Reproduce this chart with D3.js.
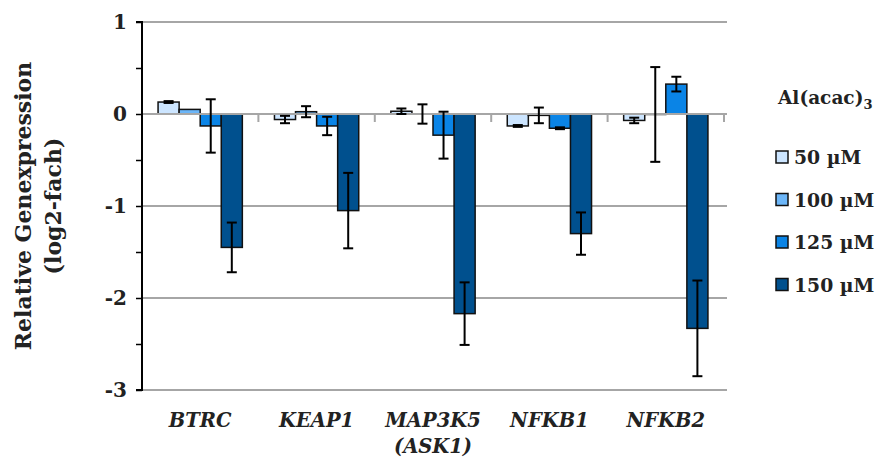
<!DOCTYPE html>
<html><head><meta charset="utf-8">
<script src="https://cdn.jsdelivr.net/npm/d3@7"></script>
<style>body{margin:0;background:#fff}svg{display:block}text{font-family:"DejaVu Serif",serif;font-weight:bold;fill:#222}</style>
</head><body><svg id="c" width="879" height="462"></svg>
<script>
const categories = [["BTRC"],["KEAP1"],["MAP3K5","(ASK1)"],["NFKB1"],["NFKB2"]];
const seriesNames = ["50 µM","100 µM","125 µM","150 µM"];
const seriesColors = ["#cce5ff","#6cb6f8","#0a84e6","#00508e"];
const s50  = [0.13, -0.06, 0.03, -0.13, -0.07];
const s100 = [0.05, 0.025, 0.00, -0.015, -0.005];
const s125 = [-0.13, -0.13, -0.23, -0.155, 0.325];
const s150 = [-1.45, -1.05, -2.17, -1.30, -2.33];
const e50  = [0.01, 0.04, 0.03, 0.01, 0.03];
const e100 = [0.00, 0.06, 0.105, 0.085, 0.515];
const e125 = [0.29, 0.10, 0.255, 0.01, 0.08];
const e150 = [0.27, 0.41, 0.34, 0.23, 0.52];
const yTicks = [1, 0, -1, -2, -3];
const values = [s50, s100, s125, s150];
const errors = [e50, e100, e125, e150];

const svg = d3.select("#c");
const pL = 142, pR = 724, pT = 22, pB = 390;
const y = d3.scaleLinear().domain([-3, 1]).range([pB, pT]);
const x0 = d3.scaleBand().domain(d3.range(categories.length)).range([pL, pR]);
const bw = x0.bandwidth();
const x1 = d3.scaleBand().domain(d3.range(4)).range([bw * 0.138, bw * 0.862]);

// gridlines
svg.append("g").selectAll("line").data(yTicks.filter(d => d !== 0)).join("line")
  .attr("x1", pL).attr("x2", pR + 3).attr("y1", d => y(d)).attr("y2", d => y(d))
  .attr("stroke", "#a6a6a6").attr("stroke-width", 2);

// bars
const data = [];
categories.forEach((c, i) => values.forEach((s, j) => data.push({i, j, v: s[i], e: errors[j][i]})));
svg.append("g").selectAll("rect").data(data).join("rect")
  .attr("x", d => x0(d.i) + x1(d.j)).attr("width", x1.bandwidth())
  .attr("y", d => y(Math.max(0, d.v))).attr("height", d => Math.abs(y(d.v) - y(0)))
  .attr("fill", d => seriesColors[d.j]).attr("stroke", "#111").attr("stroke-width", 1.5);

// zero line with category ticks
svg.append("line").attr("x1", pL).attr("x2", pR + 3).attr("y1", y(0)).attr("y2", y(0))
  .attr("stroke", "#a6a6a6").attr("stroke-width", 2);
svg.append("g").selectAll("line").data(d3.range(1, categories.length + 1)).join("line")
  .attr("x1", d => pL + d * bw).attr("x2", d => pL + d * bw)
  .attr("y1", y(0)).attr("y2", y(0) + 8).attr("stroke", "#a6a6a6").attr("stroke-width", 2);

// error bars
const eb = svg.append("g").attr("stroke", "#000").attr("stroke-width", 2);
data.filter(d => d.e > 0).forEach(d => {
  const cx = x0(d.i) + x1(d.j) + x1.bandwidth() / 2;
  eb.append("line").attr("x1", cx).attr("x2", cx).attr("y1", y(d.v + d.e)).attr("y2", y(d.v - d.e));
  [d.v + d.e, d.v - d.e].forEach(v => eb.append("line").attr("x1", cx - 5).attr("x2", cx + 5).attr("y1", y(v)).attr("y2", y(v)));
});

// y axis
const yAxis = d3.axisLeft(y).tickValues(d3.range(-3, 1.01, 0.5)).tickSize(6)
  .tickFormat(d => Number.isInteger(d) ? String(d) : "");
const ga = svg.append("g").attr("transform", `translate(${pL},0)`).call(yAxis);
ga.select(".domain").attr("stroke", "#000").attr("stroke-width", 2).attr("d", `M-6,${pT}H0V${pB}H-6`);
ga.selectAll(".tick line").attr("stroke", "#000").attr("stroke-width", 1.5);
ga.selectAll(".tick text").attr("x", -15).style("font-size", "20px").style("font-family", "DejaVu Serif").style("font-weight", "bold").attr("fill", "#222");

// category labels
const cl = svg.append("g");
categories.forEach((c, i) => {
  c.forEach((t, k) => cl.append("text").attr("x", x0(i) + bw / 2).attr("y", 427 + k * 26)
    .attr("text-anchor", "middle").style("font-style", "italic").style("font-size", "19.5px").text(t));
});

// y title
const yt = svg.append("text").attr("transform", "translate(31,206) rotate(-90)").attr("text-anchor", "middle").style("font-size", "22px");
yt.append("tspan").attr("x", 0).attr("y", 0).text("Relative Genexpression");
yt.append("tspan").attr("x", 0).attr("y", 30).text("(log2-fach)");

// legend
const lg = svg.append("g");
const lt = lg.append("text").attr("x", 778).attr("y", 104).style("font-size", "18.5px").text("Al(acac)");
lt.append("tspan").attr("dy", 5).style("font-size", "13px").text("3");
seriesNames.forEach((n, j) => {
  const cy = 157 + j * 42.5;
  lg.append("rect").attr("x", 776).attr("y", cy - 6).attr("width", 12).attr("height", 12)
    .attr("fill", seriesColors[j]).attr("stroke", "#111").attr("stroke-width", 1.5);
  lg.append("text").attr("x", 794).attr("y", cy + 7).style("font-size", "18.8px").text(n);
});
</script></body></html>
